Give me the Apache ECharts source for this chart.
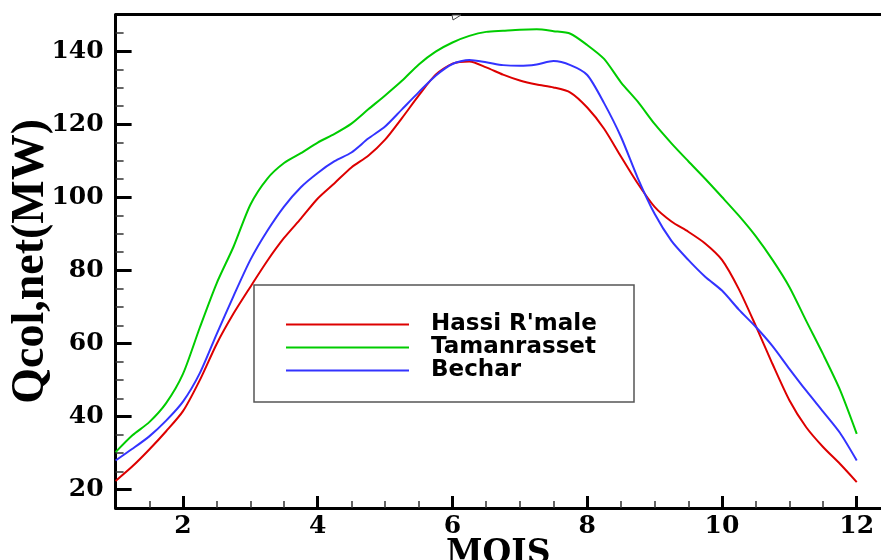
<!DOCTYPE html>
<html>
<head>
<meta charset="utf-8">
<script src="https://cdn.jsdelivr.net/npm/echarts@6/dist/echarts.min.js"></script>
<style>
  html, body { margin: 0; padding: 0; background: #ffffff; }
  #chart { width: 881px; height: 560px; }
</style>
</head>
<body>
<div id="chart"></div>
<script>
// Months along the x axis (quarter-month steps)
const months = [1, 1.25, 1.5, 1.75, 2, 2.25, 2.5, 2.75, 3, 3.25, 3.5, 3.75, 4, 4.25, 4.5, 4.75,
  5, 5.25, 5.5, 5.75, 6, 6.25, 6.5, 6.75, 7, 7.25, 7.5, 7.75, 8, 8.25, 8.5, 8.75,
  9, 9.25, 9.5, 9.75, 10, 10.25, 10.5, 10.75, 11, 11.25, 11.5, 11.75, 12];

// Net collected power (MW) per site
const hassiRmale = [22.4, 26.4, 31, 36, 41.5, 50, 59.9, 68.2, 75.5, 82.6, 88.9, 94.2, 99.7, 103.9, 108.2, 111.4,
  115.8, 121.7, 127.9, 133.6, 136.6, 137.2, 135.6, 133.6, 132, 130.9, 130.1, 128.7, 124.6, 118.8, 111.2, 103.8,
  97.4, 93.4, 90.6, 87.4, 82.9, 74.9, 64.9, 54.4, 44.5, 37.1, 31.7, 27.1, 22.1];
const tamanrasset = [30.3, 34.9, 38.5, 43.7, 51.7, 64.4, 76.5, 86.5, 98, 105.1, 109.4, 112.1, 115, 117.4, 120.2, 124.1,
  127.9, 131.9, 136.4, 139.9, 142.4, 144.2, 145.3, 145.6, 145.9, 146, 145.5, 144.8, 141.7, 137.9, 131.5, 126.2,
  120.1, 114.8, 109.9, 105.1, 100.1, 95, 89.4, 82.9, 75.5, 66.2, 57.1, 47.4, 35.3];
const bechar = [28, 31.2, 34.6, 38.9, 44.1, 51.9, 62.6, 73, 82.9, 90.8, 97.5, 102.8, 106.7, 109.9, 112.3, 116.1,
  119.4, 124.1, 128.8, 133.3, 136.5, 137.6, 137, 136.2, 136, 136.4, 137.3, 136.2, 133.5, 125.8, 116.6, 105.3,
  95.5, 88.1, 82.9, 78.3, 74.5, 69.3, 64.6, 59.3, 53.1, 47.1, 41.4, 35.6, 28];

const seriesNames = ["Hassi R'male", 'Tamanrasset', 'Bechar'];
const seriesColors = ['#dd0000', '#00cc00', '#3333ff'];

// Axis ticks and labels
const xMajorTicks = [2, 4, 6, 8, 10, 12];
const xMinorTicks = [1.5, 2.5, 3, 3.5, 4.5, 5, 5.5, 6.5, 7, 7.5, 8.5, 9, 9.5, 10.5, 11, 11.5];
const yMajorTicks = [20, 40, 60, 80, 100, 120, 140];
const yMinorTicks = [25, 30, 35, 45, 50, 55, 65, 70, 75, 85, 90, 95, 105, 110, 115, 125, 130, 135, 145];

const pairs = vals => months.map((m, i) => [m, vals[i]]);
const tickFont = { fontFamily: 'DejaVu Serif', fontWeight: 'bold', fontSize: 25, color: '#000' };

const chart = echarts.init(document.getElementById('chart'), null, { renderer: 'canvas' });

chart.setOption({
  animation: false,
  backgroundColor: '#ffffff',
  grid: { left: 115.6, right: 0, top: 14.7, bottom: 52, containLabel: false, outerBoundsMode: 'none' },
  xAxis: [
    {
      type: 'value', min: 1, max: 12.36, position: 'bottom',
      axisLine: { show: true, lineStyle: { color: '#000', width: 3 } },
      axisTick: { show: true, inside: true, length: 12, customValues: xMajorTicks, lineStyle: { color: '#000', width: 3 } },
      axisLabel: Object.assign({ show: true, margin: 6, customValues: xMajorTicks }, tickFont),
      splitLine: { show: false },
      name: 'MOIS', nameLocation: 'middle', nameGap: 30, nameMoveOverlap: false,
      nameTextStyle: { fontFamily: 'DejaVu Serif', fontWeight: 'bold', fontSize: 33, color: '#000' }
    },
    {
      type: 'value', min: 1, max: 12.36, position: 'bottom',
      axisLine: { show: false },
      axisTick: { show: true, inside: true, length: 7, customValues: xMinorTicks, lineStyle: { color: '#333', width: 1.5 } },
      axisLabel: { show: false },
      splitLine: { show: false }
    },
    {
      type: 'value', min: 1, max: 12.36, position: 'top',
      axisLine: { show: true, lineStyle: { color: '#000', width: 3 } },
      axisTick: { show: false },
      axisLabel: { show: false },
      splitLine: { show: false }
    }
  ],
  yAxis: [
    {
      type: 'value', min: 15, max: 150, position: 'left',
      axisLine: { show: true, lineStyle: { color: '#000', width: 3 } },
      axisTick: { show: true, inside: true, length: 16, customValues: yMajorTicks, lineStyle: { color: '#000', width: 3 } },
      axisLabel: Object.assign({ show: true, margin: 12, customValues: yMajorTicks }, tickFont),
      splitLine: { show: false },
      name: 'Qcol,net(MW)', nameLocation: 'middle', nameGap: 61, nameRotate: 90, nameMoveOverlap: false,
      nameTextStyle: { fontFamily: 'Liberation Serif', fontWeight: 'bold', fontSize: 46, color: '#000' }
    },
    {
      type: 'value', min: 15, max: 150, position: 'left',
      axisLine: { show: false },
      axisTick: { show: true, inside: true, length: 8, customValues: yMinorTicks, lineStyle: { color: '#333', width: 1.5 } },
      axisLabel: { show: false },
      splitLine: { show: false }
    }
  ],
  legend: {
    orient: 'vertical', left: 286, top: 313, padding: 0, itemGap: 0,
    icon: 'rect', itemWidth: 123, itemHeight: 2, selectedMode: false,
    data: seriesNames,
    textStyle: { fontFamily: 'DejaVu Sans', fontWeight: 'bold', fontSize: 23, color: '#000', lineHeight: 23, padding: [0, 0, 0, 17] }
  },
  graphic: [
    {
      type: 'rect', shape: { x: 254, y: 285, width: 380, height: 117 },
      style: { fill: 'transparent', stroke: '#555', lineWidth: 1.5 }, z: 1
    },
    {
      type: 'polygon', shape: { points: [[452, 15], [461, 15], [453, 20]] },
      style: { fill: '#fff', stroke: '#444', lineWidth: 1 }, z: 5
    }
  ],
  series: [
    { name: seriesNames[0], type: 'line', data: pairs(hassiRmale) },
    { name: seriesNames[1], type: 'line', data: pairs(tamanrasset) },
    { name: seriesNames[2], type: 'line', data: pairs(bechar) }
  ].map((s, i) => Object.assign(s, {
    xAxisIndex: 0, yAxisIndex: 0, showSymbol: false, smooth: 0.25,
    color: seriesColors[i], lineStyle: { color: seriesColors[i], width: 2 }
  }))
});
</script>
</body>
</html>
